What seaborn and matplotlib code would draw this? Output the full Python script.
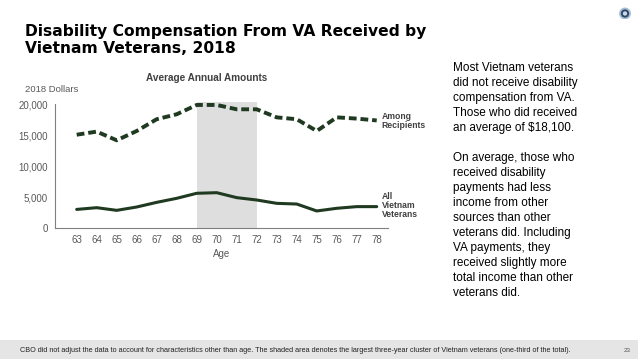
import matplotlib
matplotlib.use("Agg")
import matplotlib.pyplot as plt
import matplotlib.patches as mpatches
import seaborn as sns
import pandas as pd

# values
ages = [63, 64, 65, 66, 67, 68, 69, 70, 71, 72, 73, 74, 75, 76, 77, 78]
among_recipients = [15100, 15600, 14200, 15700, 17600, 18400, 19900, 19900,
                    19200, 19200, 17900, 17600, 15700, 17900, 17700, 17400]
all_veterans = [3050, 3330, 2900, 3440, 4190, 4840, 5650, 5750,
                4950, 4570, 4030, 3920, 2800, 3230, 3500, 3500]
series_names = ["Among\nRecipients", "All\nVietnam\nVeterans"]
y_ticks = [0, 5000, 10000, 15000, 20000]
y_ticklabels = ["0", "5,000", "10,000", "15,000", "20,000"]
cluster = (69, 72)

title_lines = ["Disability Compensation From VA Received by",
               "Vietnam Veterans, 2018"]
side_text = ("Most Vietnam veterans\ndid not receive disability\ncompensation from VA.\n"
             "Those who did received\nan average of $18,100.\n\n"
             "On average, those who\nreceived disability\npayments had less\n"
             "income from other\nsources than other\nveterans did. Including\n"
             "VA payments, they\nreceived slightly more\ntotal income than other\n"
             "veterans did.")
footer = ("CBO did not adjust the data to account for characteristics other than age. "
          "The shaded area denotes the largest three-year cluster of Vietnam veterans "
          "(one-third of the total).")

df = pd.DataFrame({
    "age": ages * 2,
    "value": among_recipients + all_veterans,
    "series": [series_names[0]] * len(ages) + [series_names[1]] * len(ages),
})

sns.set_style("white")
plt.rcParams["font.family"] = ["Liberation Sans", "DejaVu Sans"]

line_color = "#1f3a20"
gray_txt = "#595959"

fig = plt.figure(figsize=(6.38, 3.59), dpi=100)
ax = fig.add_axes([0.0862, 0.364, 0.522, 0.354])

ax.axvspan(cluster[0], cluster[1], ymin=0, ymax=20300 / 20500,
           color="#dedede", lw=0, zorder=0)

sns.lineplot(data=df[df.series == series_names[0]], x="age", y="value",
             color=line_color, lw=2.8, ax=ax, zorder=3)
ax.lines[-1].set_dashes([2.0, 1.0])
sns.lineplot(data=df[df.series == series_names[1]], x="age", y="value",
             color=line_color, lw=2.2, ax=ax, zorder=3)

ax.set_xlim(61.915, 78.565)
ax.set_ylim(0, 20500)
ax.set_xticks(ages)
ax.set_xticklabels([str(a) for a in ages], fontsize=7, color=gray_txt)
ax.set_yticks(y_ticks)
ax.set_yticklabels(y_ticklabels, fontsize=7, color=gray_txt)
ax.tick_params(axis="y", length=3, width=0.8, color=gray_txt, pad=2)
ax.tick_params(axis="x", length=0, pad=4.5)
for s in ["top", "right"]:
    ax.spines[s].set_visible(False)
for s in ["left", "bottom"]:
    ax.spines[s].set_color("#808080")
    ax.spines[s].set_linewidth(0.8)
ax.spines["left"].set_bounds(0, 20000)
ax.set_xlabel("Age", fontsize=7, color=gray_txt, labelpad=3)
ax.set_ylabel("")

ax.text(78.25, among_recipients[-1] - 150, series_names[0], fontsize=6.2,
        color="#404040", fontweight="bold", va="center", ha="left", linespacing=1.0)
ax.text(78.25, all_veterans[-1] + 150, series_names[1], fontsize=6.2,
        color="#404040", fontweight="bold", va="center", ha="left", linespacing=1.0)

fig.text(207 / 638, 1 - 78 / 359, "Average Annual Amounts", fontsize=7.2,
         fontweight="bold", color="#404040", ha="center", va="center")
fig.text(25 / 638, 1 - 89 / 359, "2018 Dollars", fontsize=6.8,
         color=gray_txt, ha="left", va="center")

for line, base in zip(title_lines, [36.3, 53.3]):
    fig.text(25 / 638, 1 - base / 359, line, fontsize=11.2, fontweight="bold",
             color="black", ha="left", va="baseline", family="DejaVu Sans")
fig.text(453 / 638, 1 - 62 / 359, side_text, fontsize=8.5, color="black",
         ha="left", va="top", linespacing=1.33)

fig.patches.append(mpatches.Rectangle((0, 0), 1, 19 / 359, transform=fig.transFigure,
                                      facecolor="#e5e5e5", edgecolor="none", zorder=0))
fig.text(20 / 638, 1 - 350 / 359, footer, fontsize=5.25, color="#222222",
         ha="left", va="center")
fig.text(627 / 638, 1 - 350 / 359, "23", fontsize=4.5, color="#555555",
         ha="center", va="center")

# small round logo top right
lax = fig.add_axes([619 / 638, 1 - 19.5 / 359, 12 / 638, 12 / 359])
lax.set_aspect("equal")
lax.add_patch(mpatches.Circle((0.5, 0.5), 0.42, facecolor="#2c4a6e",
                              edgecolor="#a9bcd0", lw=1.3))
lax.add_patch(mpatches.Circle((0.5, 0.5), 0.18, facecolor="#cfd9e4",
                              edgecolor="none"))
lax.set_xlim(0, 1)
lax.set_ylim(0, 1)
lax.axis("off")

fig.savefig("out.png", dpi=100)
